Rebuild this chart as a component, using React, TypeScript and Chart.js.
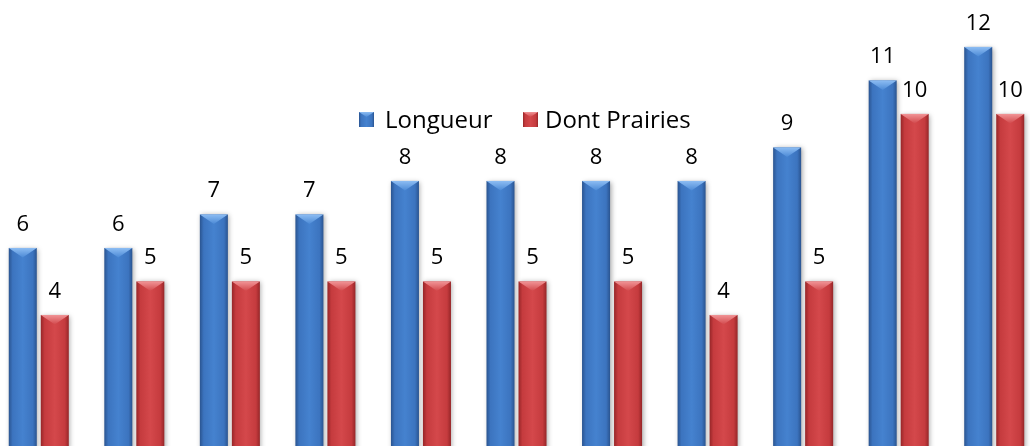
import React, { useEffect, useRef } from "react";
import { Chart, registerables } from "chart.js";
Chart.register(...registerables);

const categories = ["1", "2", "3", "4", "5", "6", "7", "8", "9", "10", "11"];
const longueur = [6, 6, 7, 7, 8, 8, 8, 8, 9, 11, 12];
const prairies = [4, 5, 5, 5, 5, 5, 5, 4, 5, 10, 10];
const seriesNames = ["Longueur", "Dont Prairies"];

const palettes = [
  { edge: "#2a5490", mid: "#3c74bf", mid2: "#4582cf", top: "#8dbdf3", topEnd: "#4c8ad6" },
  { edge: "#962628", mid: "#c53b3e", mid2: "#d4484b", top: "#f19496", topEnd: "#d2494c" },
];

const FONT = "'Open Sans', 'Noto Sans', sans-serif";

function drawBevelBar(ctx: CanvasRenderingContext2D, l: number, top: number, w: number, bottom: number, p: any, shadow: boolean) {
  const r = l + w;
  const x = l + w / 2;
  ctx.save();
  if (shadow) {
    ctx.shadowColor = "rgba(0,0,0,0.35)";
    ctx.shadowBlur = 5;
    ctx.shadowOffsetX = 1.5;
    ctx.shadowOffsetY = 1;
  }
  const g = ctx.createLinearGradient(l, 0, r, 0);
  g.addColorStop(0, p.edge);
  g.addColorStop(0.14, p.mid);
  g.addColorStop(0.5, p.mid2);
  g.addColorStop(0.86, p.mid);
  g.addColorStop(1, p.edge);
  ctx.fillStyle = g;
  ctx.fillRect(l, top, w, bottom - top);
  ctx.restore();
  const bh = Math.min(w * 0.34, 9.5);
  ctx.save();
  const tg = ctx.createLinearGradient(0, top, 0, top + bh);
  tg.addColorStop(0, p.top);
  tg.addColorStop(1, p.topEnd);
  ctx.fillStyle = tg;
  ctx.beginPath();
  ctx.moveTo(l, top);
  ctx.lineTo(r, top);
  ctx.lineTo(x, top + bh);
  ctx.closePath();
  ctx.fill();
  ctx.restore();
}

const bevelPlugin = {
  id: "bevelBars",
  afterDatasetsDraw(chart: any) {
    const ctx: CanvasRenderingContext2D = chart.ctx;
    const bars: any[] = [];
    chart.data.datasets.forEach((ds: any, di: number) => {
      const meta = chart.getDatasetMeta(di);
      meta.data.forEach((el: any, i: number) => {
        const { x, y, base, width } = el.getProps(["x", "y", "base", "width"], true);
        bars.push({ x, y, base, width, di, v: ds.data[i] });
      });
    });
    bars.forEach((b) => drawBevelBar(ctx, b.x - b.width / 2, b.y, b.width, b.base, palettes[b.di], true));
    ctx.save();
    ctx.fillStyle = "#000";
    ctx.font = `22px ${FONT}`;
    ctx.textAlign = "center";
    ctx.textBaseline = "alphabetic";
    bars.forEach((b) => ctx.fillText(String(b.v), b.x, b.y - 17));
    ctx.restore();
    const left = -9;
    const items = [
      { sx: 359, tx: 385 },
      { sx: 523, tx: 545 },
    ];
    ctx.save();
    ctx.font = `24px ${FONT}`;
    ctx.textAlign = "left";
    items.forEach((it, i) => {
      drawBevelBar(ctx, it.sx - left, 112, 15, 127, palettes[i], false);
      ctx.fillStyle = "#000";
      ctx.fillText(seriesNames[i], it.tx - left, 128);
    });
    ctx.restore();
  },
};

export default function App() {
  const ref = useRef<HTMLCanvasElement | null>(null);
  useEffect(() => {
    if (!ref.current) return;
    const chart = new Chart(ref.current, {
      type: "bar",
      data: {
        labels: categories,
        datasets: [
          { label: seriesNames[0], data: longueur, backgroundColor: "rgba(0,0,0,0)", borderWidth: 0 },
          { label: seriesNames[1], data: prairies, backgroundColor: "rgba(0,0,0,0)", borderWidth: 0 },
        ],
      },
      options: {
        animation: false,
        responsive: false,
        devicePixelRatio: 1,
        layout: { padding: 0 },
        datasets: { bar: { categoryPercentage: 0.67, barPercentage: 0.875 } },
        plugins: { legend: { display: false }, tooltip: { enabled: false } },
        scales: {
          x: { display: false, grid: { display: false } },
          y: { display: false, min: 0, max: 13.4, grid: { display: false } },
        },
      },
      plugins: [bevelPlugin],
    });
    return () => chart.destroy();
  }, []);
  return (
    <div style={{ position: "fixed", left: 0, top: 0, width: 1030, height: 446, overflow: "hidden", background: "#fff" }}>
      <canvas ref={ref} width={1051} height={449} style={{ position: "absolute", left: -9, top: 0, width: 1051, height: 449 }} />
    </div>
  );
}
